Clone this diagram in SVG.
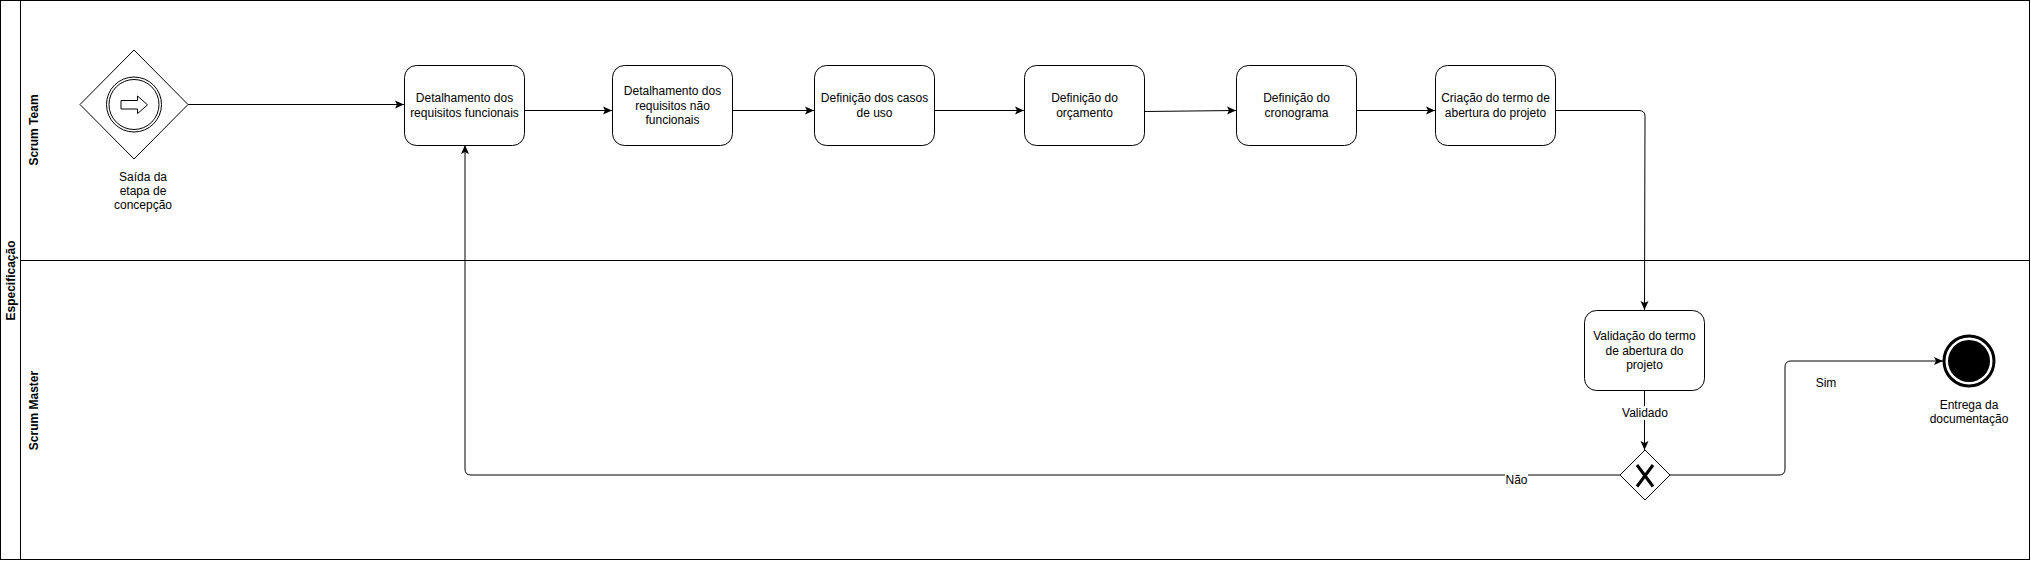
<svg xmlns="http://www.w3.org/2000/svg" width="2031" height="561" viewBox="0 0 2031 561">
<defs>
<marker id="arr" markerUnits="userSpaceOnUse" markerWidth="11" markerHeight="11" viewBox="0 0 11 11" refX="10" refY="5.5" orient="auto">
<path d="M1,1.5 L10,5.5 L1,9.5 L3,5.5 Z" fill="#000"/>
</marker>
</defs>
<style>
.lane{fill:none;stroke:#000;stroke-width:1}
.task{fill:#fff;stroke:#000;stroke-width:1}
.t{font-family:"Liberation Sans",Arial,sans-serif;font-size:12px;fill:#000;text-anchor:middle}
.h{font-family:"Liberation Sans",Arial,sans-serif;font-size:12px;font-weight:bold;fill:#000;text-anchor:middle}
.e{fill:none;stroke:#000;stroke-width:1}
.bg{fill:#fff;stroke:none}
</style>
<rect x="0" y="0" width="2031" height="561" fill="#fff"/>

<g id="pool">
<rect class="lane" x="0.5" y="0.5" width="2029" height="559"/>
<line class="lane" x1="20.5" y1="0.5" x2="20.5" y2="559.5"/>
<line class="lane" x1="20.5" y1="260.5" x2="2029.5" y2="260.5"/>
<text class="h" transform="translate(15,280.5) rotate(-90)">Especificação</text>
<text class="h" transform="translate(38,130) rotate(-90)">Scrum Team</text>
<text class="h" transform="translate(38,410.5) rotate(-90)">Scrum Master</text>
</g>

<g id="connectors">
<path class="e" d="M188,104.5 L404,104.5" marker-end="url(#arr)"/>
<path class="e" d="M524,110.5 L612,110.5" marker-end="url(#arr)"/>
<path class="e" d="M732,110.5 L814,110.5" marker-end="url(#arr)"/>
<path class="e" d="M934,110.5 L1024,110.5" marker-end="url(#arr)"/>
<path class="e" d="M1144,111.5 L1236,110.5" marker-end="url(#arr)"/>
<path class="e" d="M1356,110.5 L1435,110.5" marker-end="url(#arr)"/>
<path class="e" d="M1555,110.5 L1639,110.5 Q1645,110.5 1645,116.5 L1644.5,310" marker-end="url(#arr)"/>
<path class="e" d="M1644.5,390 L1644.5,450" marker-end="url(#arr)"/>
<path class="e" d="M1670,475 L1779,475 Q1785,475 1785,469 L1785,367 Q1785,361 1791,361 L1943,361" marker-end="url(#arr)"/>
<path class="e" d="M1620,475 L471,475 Q465,475 465,469 L465,145" marker-end="url(#arr)"/>
<rect class="bg" x="1621" y="406" width="48" height="14"/>
<text class="t" x="1645" y="417">Validado</text>
<rect class="bg" x="1505" y="474" width="23" height="13"/>
<text class="t" x="1516.5" y="484">Não</text>
<text class="t" x="1826" y="387">Sim</text>
</g>

<g id="start">
<polygon points="134,50 188,104.5 134,159 80,104.5" fill="#fff" stroke="#000" stroke-width="1"/>
<circle cx="134" cy="104.5" r="27.5" fill="#fff" stroke="#000" stroke-width="1"/>
<circle cx="134" cy="104.5" r="25" fill="none" stroke="#000" stroke-width="1"/>
<polygon points="121,100.5 137.5,100.5 137.5,96 147.5,104.8 137.5,113.6 137.5,109 121,109" fill="#fff" stroke="#000" stroke-width="1"/>
<text class="t" x="143" y="181">Saída da</text>
<text class="t" x="143" y="195">etapa de</text>
<text class="t" x="143" y="209">concepção</text>
</g>

<g id="n1">
<rect class="task" x="404.5" y="65.5" width="120" height="80" rx="12"/>
<text class="t" x="464.5" y="102">Detalhamento dos</text>
<text class="t" x="464.5" y="116.5">requisitos funcionais</text>
</g>
<g id="n2">
<rect class="task" x="612.5" y="65.5" width="120" height="80" rx="12"/>
<text class="t" x="672.5" y="95">Detalhamento dos</text>
<text class="t" x="672.5" y="109.5">requisitos não</text>
<text class="t" x="672.5" y="124">funcionais</text>
</g>
<g id="n3">
<rect class="task" x="814.5" y="65.5" width="120" height="80" rx="12"/>
<text class="t" x="874.5" y="102">Definição dos casos</text>
<text class="t" x="874.5" y="116.5">de uso</text>
</g>
<g id="n4">
<rect class="task" x="1024.5" y="65.5" width="120" height="80" rx="12"/>
<text class="t" x="1084.5" y="102">Definição do</text>
<text class="t" x="1084.5" y="116.5">orçamento</text>
</g>
<g id="n5">
<rect class="task" x="1236.5" y="65.5" width="120" height="80" rx="12"/>
<text class="t" x="1296.5" y="102">Definição do</text>
<text class="t" x="1296.5" y="116.5">cronograma</text>
</g>
<g id="n6">
<rect class="task" x="1435.5" y="65.5" width="120" height="80" rx="12"/>
<text class="t" x="1495.5" y="102">Criação do termo de</text>
<text class="t" x="1495.5" y="116.5">abertura do projeto</text>
</g>
<g id="n7">
<rect class="task" x="1584.5" y="310.5" width="120" height="80" rx="12"/>
<text class="t" x="1644.5" y="340">Validação do termo</text>
<text class="t" x="1644.5" y="354.5">de abertura do</text>
<text class="t" x="1644.5" y="369">projeto</text>
</g>

<g id="gateway">
<polygon points="1645,450 1670,475 1645,500 1620,475" fill="#fff" stroke="#000" stroke-width="1"/>
<path d="M1637,465 L1653,486.5 M1653,465 L1637,486.5" stroke="#000" stroke-width="3" fill="none"/>
</g>

<g id="end">
<circle cx="1969" cy="361" r="25" fill="#fff" stroke="#000" stroke-width="3"/>
<circle cx="1969" cy="361" r="21" fill="#000"/>
<text class="t" x="1969" y="409">Entrega da</text>
<text class="t" x="1969" y="423">documentação</text>
</g>
</svg>
